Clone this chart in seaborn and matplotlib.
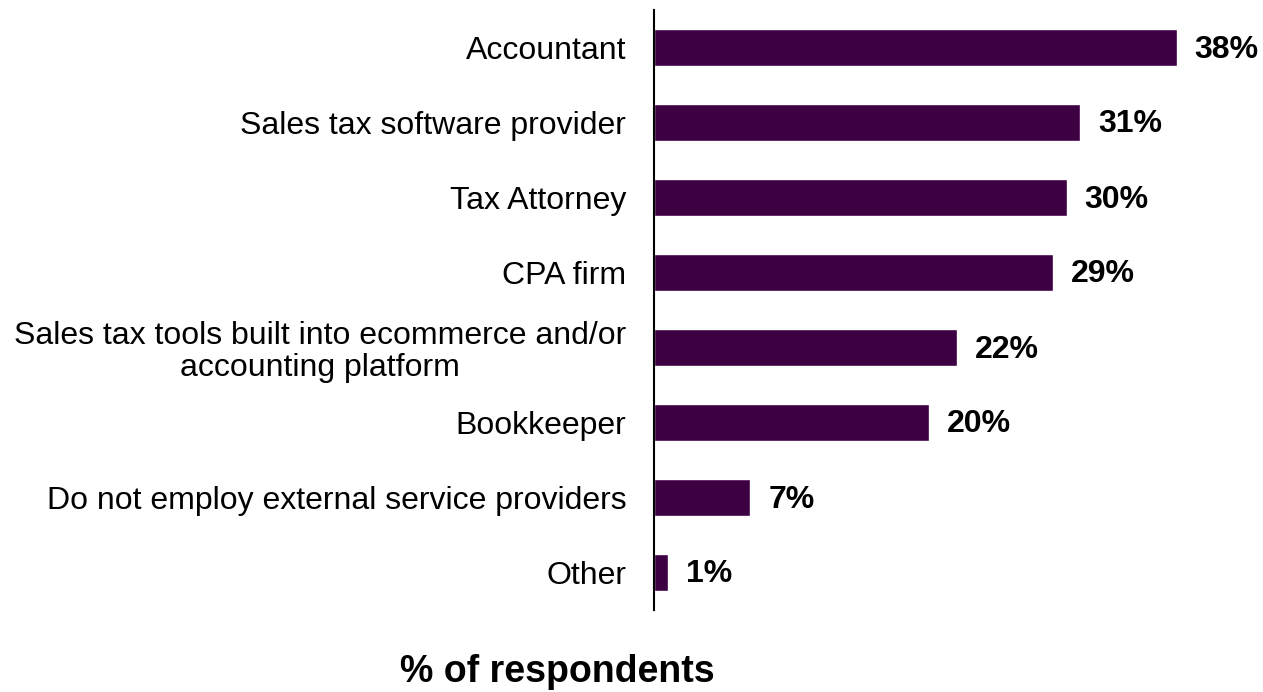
import matplotlib
matplotlib.use("Agg")
import matplotlib.pyplot as plt
import seaborn as sns
import pandas as pd

categories = [
    "Accountant",
    "Sales tax software provider",
    "Tax Attorney",
    "CPA firm",
    "Sales tax tools built into ecommerce and/or\naccounting platform",
    "Bookkeeper",
    "Do not employ external service providers",
    "Other",
]
values = [38, 31, 30, 29, 22, 20, 7, 1]
value_labels = ["38%", "31%", "30%", "29%", "22%", "20%", "7%", "1%"]

sns.set_theme(style="white")
plt.rcParams["font.family"] = ["Liberation Sans", "DejaVu Sans"]

df = pd.DataFrame({"category": categories, "value": values})

fig = plt.figure(figsize=(12.63, 6.92), dpi=100)
ax = fig.add_axes([654 / 1263, 82 / 692, 550 / 1263, 600 / 692])

sns.barplot(data=df, x="value", y="category", orient="h", color="#3d0042",
            saturation=1, width=0.5, ax=ax)

ax.set_xlim(0, 40)
ax.set_ylim(len(categories) - 0.5, -0.5)

for bar, lab in zip(ax.patches, value_labels):
    ax.annotate(lab, xy=(bar.get_width(), bar.get_y() + bar.get_height() / 2),
                xytext=(18, -2), textcoords="offset pixels",
                ha="left", va="center", fontsize=23, fontweight="bold",
                color="#000000")

for s in ["top", "right", "bottom"]:
    ax.spines[s].set_visible(False)
ax.spines["left"].set_color("#000000")
ax.spines["left"].set_linewidth(1.5)

ax.set_xticks([])
ax.set_xlabel("")
ax.set_ylabel("")
ax.tick_params(axis="y", length=0, pad=20, labelsize=23, colors="#000000")
for t in ax.get_yticklabels():
    t.set_multialignment("center")
    t.set_linespacing(1.1)

fig.text(557 / 1263, 1 - 672 / 692, "% of respondents", ha="center", va="center",
         fontsize=27, fontweight="bold", color="#000000")

fig.savefig("out.png", dpi=100, facecolor="white")
